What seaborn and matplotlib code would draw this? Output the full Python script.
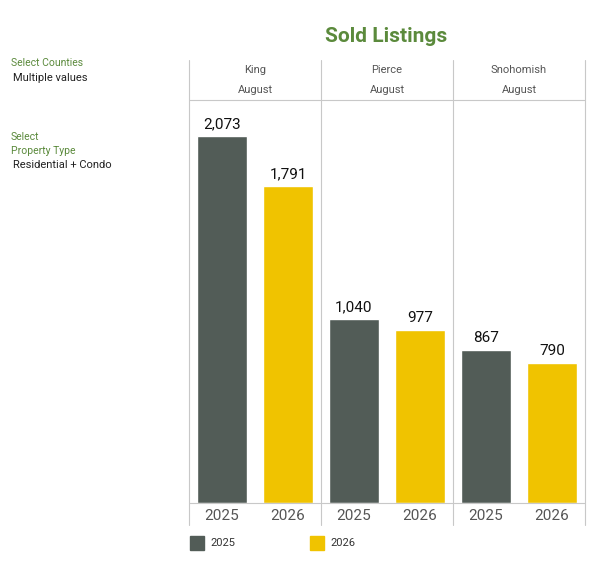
import matplotlib
matplotlib.use("Agg")
import matplotlib.pyplot as plt
import seaborn as sns
import pandas as pd
from matplotlib.lines import Line2D
from matplotlib.patches import Rectangle

counties = ["King", "Pierce", "Snohomish"]
years = ["2025", "2026"]
vals_2025 = [2073, 1040, 867]
vals_2026 = [1791, 977, 790]
month = "August"

sns.set_theme(style="white")
plt.rcParams['font.family'] = ['Roboto', 'DejaVu Sans']
W, H = 599, 572
fig = plt.figure(figsize=(W/100, H/100), dpi=100)
colors = {"2025": "#525c57", "2026": "#f0c300"}
green = "#5b8a3c"
line_c = "#c8c8c8"

def fx(x): return x / W
def fy(y): return 1 - y / H

fig.text(fx(386), fy(37), "Sold Listings", color=green, fontsize=15, fontweight="bold", ha="center", va="center")
fig.text(fx(11), fy(63), "Select Counties", color=green, fontsize=7.5, va="center")
fig.text(fx(13), fy(78), "Multiple values", color="#222222", fontsize=8, va="center")
fig.text(fx(11), fy(137), "Select", color=green, fontsize=7.5, va="center")
fig.text(fx(11), fy(151), "Property Type", color=green, fontsize=7.5, va="center")
fig.text(fx(13), fy(165), "Residential + Condo", color="#222222", fontsize=8, va="center")

left, pw = 189, 132
top, bottom = 100, 503
ymax = (bottom - top) / ((bottom - 136) / 2073)
for i, c in enumerate(counties):
    x0 = left + i * pw
    ax = fig.add_axes([fx(x0), fy(bottom), pw / W, (bottom - top) / H])
    df = pd.DataFrame({"year": years, "value": [vals_2025[i], vals_2026[i]]})
    sns.barplot(data=df, x="year", y="value", hue="year", palette=colors, ax=ax, width=0.76, legend=False, saturation=1)
    ax.set_ylim(0, ymax)
    ax.set_xlim(-0.5, 1.5)
    ax.set_yticks([]); ax.set_xticks([])
    ax.set_xlabel(""); ax.set_ylabel("")
    for s in ax.spines.values(): s.set_visible(False)
    for p, v in zip(ax.patches, df["value"]):
        ax.text(p.get_x() + p.get_width()/2, v + ymax*0.012, f"{v:,}", ha="center", va="bottom", fontsize=11, color="#111111")
    fig.text(fx(x0 + pw/2), fy(70), c, ha="center", va="center", fontsize=8, color="#555555")
    fig.text(fx(x0 + pw/2), fy(90), month, ha="center", va="center", fontsize=8, color="#555555")
    for j, y in enumerate(years):
        fig.text(fx(x0 + pw*(0.25 + 0.5*j)), fy(516), y, ha="center", va="center", fontsize=11, color="#555555")

# grid lines
for xx in [left + k*pw for k in range(4)]:
    ystart = 60 if xx < left + 3*pw else 60
    fig.add_artist(Line2D([fx(xx), fx(xx)], [fy(60), fy(525)], color=line_c, lw=0.8))
fig.add_artist(Line2D([fx(left), fx(left+3*pw)], [fy(100), fy(100)], color=line_c, lw=0.8))
fig.add_artist(Line2D([fx(left), fx(left+3*pw)], [fy(503), fy(503)], color=line_c, lw=0.8))

# legend
for k, (y, lx) in enumerate(zip(years, [190, 310])):
    fig.add_artist(Rectangle((fx(lx), fy(550)), 14/W, 14/H, color=colors[y]))
    fig.text(fx(lx + 20), fy(543), y, va="center", fontsize=8, color="#333333")

fig.savefig("out.png", dpi=100)
